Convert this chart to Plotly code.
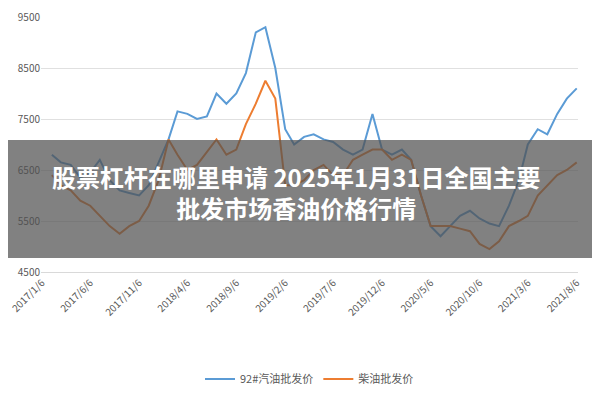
import plotly.graph_objects as go
import pandas as pd

dates = pd.date_range("2017-01-06", "2021-08-06", freq="MS") + pd.Timedelta(days=5)
gasoline = [6800,6650,6600,6350,6450,6700,6300,6100,6050,6000,6200,6650,
            7100,7650,7600,7500,7550,8000,7800,8000,8400,9200,9300,8500,
            7300,7000,7150,7200,7100,7050,6900,6800,6900,7600,6900,6800,
            6900,6700,6000,5400,5200,5400,5600,5700,5550,5450,5400,5800,
            6300,7000,7300,7200,7600,7900,8100,7800]
diesel = [6400,6200,6100,5900,5800,5600,5400,5250,5400,5500,5800,6300,
          7100,6800,6500,6600,6850,7100,6800,6900,7400,7800,8250,7900,
          6200,6200,6300,6500,6600,6400,6400,6700,6800,6900,6900,6700,
          6800,6700,6000,5400,5400,5400,5350,5300,5050,4950,5100,5400,
          5500,5600,6000,6200,6400,6500,6650,6350]
n = min(len(dates), len(gasoline))
dates = dates[:n]
tick_labels = ["2017/1/6","2017/6/6","2017/11/6","2018/4/6","2018/9/6","2019/2/6",
               "2019/7/6","2019/12/6","2020/5/6","2020/10/6","2021/3/6","2021/8/6"]
tick_vals = [pd.Timestamp(s.replace("/", "-")) for s in tick_labels]

fig = go.Figure()
fig.add_trace(go.Scatter(x=dates, y=gasoline[:n], name="92#汽油批发价", mode="lines",
                         line=dict(color="#5b9bd5", width=2)))
fig.add_trace(go.Scatter(x=dates, y=diesel[:n], name="柴油批发价", mode="lines",
                         line=dict(color="#ed7d31", width=2)))
fig.update_layout(
    width=600, height=400, margin=dict(l=33, r=30, t=9, b=136, autoexpand=False),
    plot_bgcolor="white", paper_bgcolor="white",
    font=dict(family="Noto Sans CJK SC", color="#595959", size=10),
    legend=dict(orientation="h", x=0.5, xanchor="center", y=-0.42, yanchor="middle",
                font=dict(size=11)),
    xaxis=dict(range=[pd.Timestamp("2017-01-03"), pd.Timestamp("2021-08-10")],
               tickvals=tick_vals, ticktext=tick_labels, tickangle=-45, automargin=False,
               ticklabeloverflow="allow",
               showgrid=False, showline=True, linecolor="#d9d9d9"),
    yaxis=dict(range=[4500, 9500], tickvals=[4500,5500,6500,7500,8500,9500], automargin=False,
               showgrid=True, gridcolor="#e0e0e0", zeroline=False),
    shapes=[dict(type="rect", xref="paper", yref="paper", x0=-0.2, x1=1.2,
                 y0=0.055, y1=0.518, fillcolor="rgba(80,80,80,0.72)", line=dict(width=0),
                 layer="above")],
    annotations=[dict(xref="paper", yref="paper", x=0.475, y=0.175, showarrow=False,
                      text="<b>股票杠杆在哪里申请 2025年1月31日全国主要<br>批发市场香油价格行情</b>",
                      font=dict(size=24, color="white", family="Noto Sans CJK SC"),
                      align="center")],
)
fig.write_html("out.html")
